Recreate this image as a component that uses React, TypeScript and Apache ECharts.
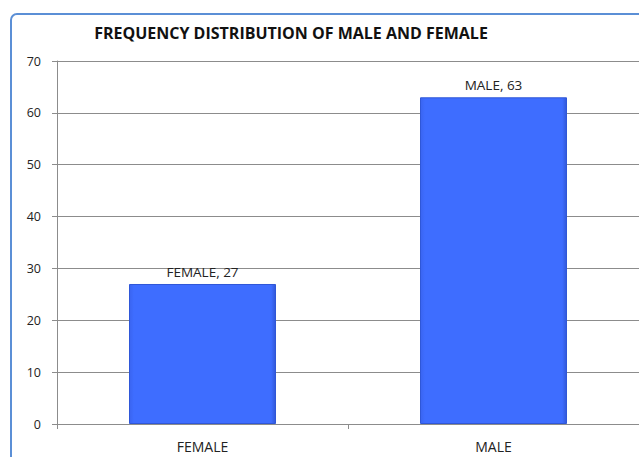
import React, { useEffect, useRef } from "react";
import * as echarts from "echarts";

const categories = ["FEMALE", "MALE"];
const counts = [27, 63];
const yTicks = [0, 10, 20, 30, 40, 50, 60, 70];

export default function App() {
  const ref = useRef<HTMLDivElement>(null);
  useEffect(() => {
    document.body.style.margin = "0";
    const chart = echarts.init(ref.current!, null, { renderer: "svg" });
    const font = "'Open Sans', 'Noto Sans', sans-serif";
    chart.setOption({
      animation: false,
      backgroundColor: "#ffffff",
      title: {
        text: "FREQUENCY DISTRIBUTION OF MALE AND FEMALE",
        left: 286,
        textAlign: "center",
        top: 20,
        textStyle: { fontFamily: font, fontSize: 16, fontWeight: "bold", color: "#111" },
      },
      graphic: [
        {
          type: "rect",
          shape: { x: 11, y: 14, width: 700, height: 520, r: 6 },
          style: { fill: "none", stroke: "#5b8fd6", lineWidth: 2 },
          z: 10,
        },
      ],
      grid: { left: 57, top: 61, right: -4, bottom: 33, containLabel: false },
      xAxis: {
        type: "category",
        data: categories,
        axisLine: { lineStyle: { color: "#8c8c8c", width: 1 } },
        axisTick: { show: true, length: 5, lineStyle: { color: "#8c8c8c" } },
        axisLabel: { fontFamily: font, fontSize: 14, color: "#222", margin: 15 },
        splitLine: { show: false },
      },
      yAxis: {
        type: "value",
        min: 0,
        max: 70,
        interval: 10,
        axisLine: { show: true, lineStyle: { color: "#8c8c8c", width: 1 } },
        axisTick: { show: true, length: 5, lineStyle: { color: "#8c8c8c" } },
        axisLabel: {
          fontFamily: font,
          fontSize: 12.5,
          color: "#222",
          margin: 16,
          formatter: (v: number) => (yTicks.includes(v) ? String(v) : ""),
        },
        splitLine: { show: true, lineStyle: { color: "#8c8c8c", width: 1 } },
      },
      series: [
        {
          type: "bar",
          data: counts,
          barWidth: 147,
          itemStyle: {
            color: new echarts.graphic.LinearGradient(0, 0, 1, 0, [
              { offset: 0, color: "#3a64f0" },
              { offset: 0.03, color: "#3e6dff" },
              { offset: 0.97, color: "#3e6dff" },
              { offset: 1, color: "#3258d8" },
            ]),
            borderColor: "#2f57d8",
            borderWidth: 1,
          },
          label: {
            show: true,
            position: "top",
            distance: 5,
            fontFamily: font,
            fontSize: 13.5,
            color: "#222",
            formatter: (p: any) => `${p.name}, ${p.value}`,
          },
        },
      ],
    });
    return () => chart.dispose();
  }, []);
  return <div ref={ref} style={{ width: 639, height: 457 }} />;
}
